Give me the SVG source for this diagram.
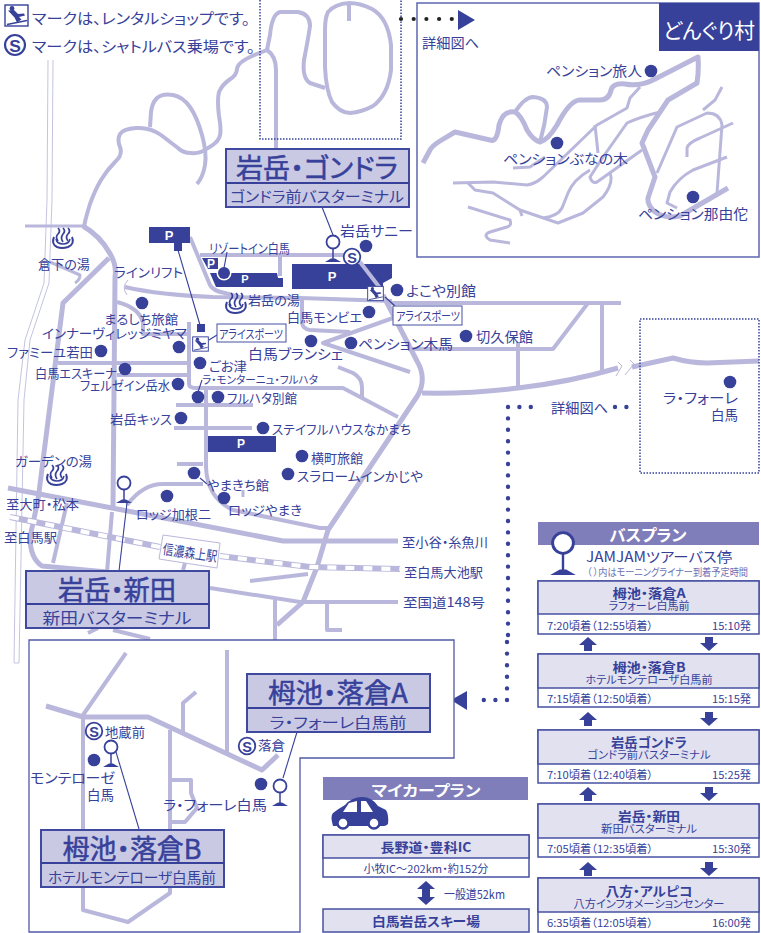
<svg xmlns="http://www.w3.org/2000/svg" width="761" height="933" viewBox="0 0 761 933">
<style>
text{font-family:"Noto Sans CJK JP","Noto Sans",sans-serif;fill:#37419a;dominant-baseline:central;font-size:13px;font-feature-settings:"palt"}
.m{text-anchor:middle}.b{font-weight:700}.w{fill:#fff}
.ttl{font-size:27px;stroke:#37419a;stroke-width:.5}
.r,.r3,.r5{fill:none;stroke:#b9b8dc;stroke-width:4;stroke-linejoin:round}
.r3{stroke-width:3}.r5{stroke-width:5}
.d{fill:#37419a}
.l{fill:none;stroke:#37419a;stroke-width:1.1}
.p{fill:#c9c9e4;stroke:#3f499f;stroke-width:2}
.q{fill:#e1e1f0;stroke:#4750a3;stroke-width:1.5}
.v{fill:#fff;stroke:#4750a3;stroke-width:1.5}
.h{fill:#7f7dba}
.dots{fill:none;stroke:#37419a;stroke-width:4.4;stroke-linecap:round}
</style>
<defs>
<symbol id="ski" viewBox="0 0 25 23"><rect x="1" y="1" width="23" height="21" fill="#fff" stroke="#37419a" stroke-width="1.400"/><circle class="d" cx="8" cy="4.500" r="2.400"/><path class="d" d="M4 6.500 10 6 14 10 20 9.500 21 11.500 15 13 17.500 15.500 13 18.500 10.500 13.500Z"/><path d="M3 20.500 23 16.500" stroke="#37419a" stroke-width="1.300"/></symbol>
<g id="s"><circle r="8.300" fill="#fff" stroke="#37419a" stroke-width="1.800"/><text class="m b" y="0.500" style="font-family:'Liberation Sans',sans-serif;font-size:14.500px">S</text></g>
<g id="stop"><circle cy="-20" r="6.500" fill="#fff" stroke="#37419a" stroke-width="1.800"/><path d="M0-13.500V-3" stroke="#37419a" stroke-width="1.500"/><path class="d" d="M-8 0H8L2-3.500H-2Z"/></g>
<g id="onsen" fill="none" stroke="#37419a" stroke-width="1.700"><path d="M-5-2Q-8-6-5-9-2-12-5-15M0-1Q-3-5 0-9 3-12 0-15M5-2Q2-6 5-9 8-12 5-15"/><path stroke-width="2" d="M-9-6Q-12 1-6 4-1 6 5 4 12 1 9-6"/><path stroke-width="1.500" d="M-7-4Q-6 1 0 1 6 1 7-4"/></g>
<path id="up" class="d" d="M0 0 9 8H4V14H-4V8H-9Z"/>
<path id="dn" class="d" d="M-4 0H4V6H9L0 14-9 6H-4Z"/>
</defs>
<rect width="761" height="933" fill="#fff"/>
<g id="connectors">
<path fill="none" stroke="#c4c4e0" d="M48 60 47 200 44 283 25 340 18 400 14 663H19L24 400 30 340 49 283 52 200 53 60"/>
<path class="r" d="M84 227 85 222Q86 217 90 204 95 190 101 180 107 170 115 162 123 155 120 147 117 140 120 134 123 129 136 128 150 127 161 135L178 148Q183 153 191 153 200 154 208 148 217 143 219 138 222 133 219 116 217 100 219 92 222 85 229 80 237 75 237 69 237 63 252 56L267 50"/>
<path class="r" d="M150 127 151 112Q152 103 157 98 163 93 173 95 183 97 190 107 197 117 202 135 207 153 205 165 203 177 197 184"/>
<path class="r" d="M267 50 270 35Q272 14 280 12H298Q310 14 310 26 308 40 304 60 302 78 310 83L325 88M267 50Q276 56 276 70V148"/>
<path class="r" d="M349 3Q335 4 328 12 325 18 325 30V67Q326 90 332 102 340 113 350 113 362 112 373 106 388 95 391 70V45Q388 18 372 9 360 3 349 3M349 3V21"/>
<path class="r3" d="M25 226H83"/>
<path class="r5" d="M83 226Q100 236 109 252 117 264 115 277L113 507"/>
<path class="r5" d="M109 258 63 303 38 500 30 537Q30 558 42 566L107 572"/>
<path class="r3" d="M50 262 80 275Q80 280 75 283"/>
<path class="r" d="M125 287Q160 295 213 297L300 298 392 301"/>
<path fill="none" stroke="#b9b8dc" d="M128 280Q121 287 127 295"/>
<path class="r" d="M190 237 210 285Q213 291 225 293L240 297"/>
<path class="r" d="M117 302Q140 308 143 323V334H190"/>
<path class="r" d="M58 363H190M117 375H190"/>
<path class="r" d="M189 322V384Q189 388 197 388H343L398 417"/>
<path class="r" d="M338 367 353 373Q362 378 362 387V398"/>
<path class="r" d="M206 388V467Q207 498 233 510L320 528 328 528"/>
<path class="r" d="M176 405H253M174 428H252M177 464H203"/>
<path class="r5" d="M8 488 112 508 283 541H398"/>
<path class="r" d="M127 505Q143 484 163 484H203"/>
<path class="r3" d="M243 490V497"/>
<path class="r" d="M67 503 53 563M112 512 107 572M185 563 183 570"/>
<path class="r" d="M210 588 300 602H398M250 581 308 574M275 600V640M327 603V630H342M88 633 98 628M113 630 150 639"/>
<path class="r" d="M200 255H347M280 255V276"/>
<path class="r" d="M302 298V323Q303 329 310 330L350 332"/>
<path class="r" d="M393 318 323 343 410 372"/>
<path class="r" d="M390 303H621M588 303 553 349H410M602 303V372M518 342V388"/>
<path class="r5" d="M383 295 417 361Q427 378 418 395L328 530 317 567 303 602 277 625"/>
<path class="r5" d="M422 393Q470 394 518 388 570 382 618 368"/>
<path class="r5" d="M632 367 673 358Q690 363 707 363L759 361"/>
<path fill="none" stroke="#b9b8dc" d="M618 362 622 366 616 376M630 360 634 364 625 375"/>
<path fill="none" stroke="#b9b8dc" stroke-width="6" d="M10 517 160 547M220 556 310 567 400 569"/>
<path fill="none" stroke="#fff" stroke-width="4.200" stroke-dasharray="9 9" d="M10 517 160 547M220 556 310 567 400 569"/>
</g>
<g id="detail-top" fill="none" stroke="#37419a" stroke-width="1.500" stroke-dasharray="1.500 1.500"><path d="M260 0V139H401V0"/></g>
<g id="detail-right" fill="none" stroke="#37419a" stroke-width="1.500" stroke-dasharray="1.500 1.500"><rect x="640" y="319" width="119" height="154"/></g>
<path class="dots" d="M508 407H541M615 407H637M508 407V640" stroke-dasharray="0 11.400"/>
<path class="dots" d="M507 642V700H473" stroke-dasharray="0 11.600"/>
<path class="d" d="M451 700 467 691V710Z"/>
<g id="legend">
<use href="#ski" x="4" y="4" width="25" height="23"/>
<text x="32" y="17" textLength="218" lengthAdjust="spacingAndGlyphs" style="font-size:15px">マークは、レンタルショップです。</text>
<use href="#s" transform="translate(15 45) scale(1.200)"/>
<text x="32" y="45" textLength="223" lengthAdjust="spacingAndGlyphs" style="font-size:15px">マークは、シャトルバス乗場です。</text>
</g>
<g id="donguri">
<rect x="417" y="3" width="342" height="254" fill="#fff" stroke="#5e65b0" stroke-width="1.500"/>
<path class="r5" d="M423 163 430 150Q432 146 440 141L455 132 490 140Q497 143 499 125 503 110 515 112 521 115 527 130 533 140 540 142 548 140 557 125 570 100 580 100H600Q609 100 611 90 613 83 625 84 640 87 655 79L698 57Q699 70 697 83L668 100 648 130 642 143 655 177 648 198Q647 205 655 212 665 219 680 216L728 188"/>
<path class="r" d="M515 112Q525 97 533 97 547 98 547 107 545 125 540 142"/>
<path class="r3" d="M453 183 493 182 527 185Q535 184 543 177L597 125 627 108 630 98 640 87"/>
<path class="r3" d="M513 168 530 167 545 157"/>
<path class="r3" d="M595 125 598 153"/>
<path class="r3" d="M660 112Q640 117 627 123L603 157 590 177Q592 184 597 182L642 150"/>
<path class="r3" d="M610 173Q614 183 603 197L583 213 558 223 520 210 493 193 475 190 468 183"/>
<path class="r3" d="M543 218Q558 216 562 208L568 193Q573 180 590 170"/>
<path class="r3" d="M468 207 510 220Q512 226 507 227L490 232Q482 235 490 240L510 243"/>
<path class="r3" d="M520 210 522 216"/>
<path class="r3" d="M657 173 677 127 707 113Q720 113 722 125L717 193"/>
<path class="r3" d="M703 110 715 100 722 87"/>
<path class="r3" d="M687 157V148Q688 143 700 138L733 123"/>
<path class="r3" d="M727 157 693 170Q678 178 670 192L667 203 677 208"/>
<rect x="659" y="3" width="100" height="48" class="d"/>
<text class="w m" x="709" y="29" textLength="92" lengthAdjust="spacingAndGlyphs" style="font-size:21px">どんぐり村</text>
<circle class="d" cx="651" cy="71" r="6.300"/><text x="546" y="70" textLength="96" lengthAdjust="spacingAndGlyphs" style="font-size:14px">ペンション旅人</text>
<circle class="d" cx="557" cy="143" r="6.300"/><text x="503" y="158" textLength="125" lengthAdjust="spacingAndGlyphs" style="font-size:14px">ペンションぶなの木</text>
<circle class="d" cx="693" cy="197" r="6.300"/><text x="638" y="213" textLength="110" lengthAdjust="spacingAndGlyphs" style="font-size:14px">ペンション那由佗</text>
</g>
<path d="M401 19H452" fill="none" stroke="#222" stroke-width="4.200" stroke-linecap="round" stroke-dasharray="0 12.700"/>
<path class="d" d="M458 10 475 20 458 30Z"/>
<text x="422" y="42" textLength="57" lengthAdjust="spacingAndGlyphs" style="font-size:14px">詳細図へ</text>
<text x="551" y="407" textLength="57" lengthAdjust="spacingAndGlyphs" style="font-size:14px">詳細図へ</text>
<g id="parking">
<path class="d" d="M149 227H190V243H182V251H174V243H149Z"/><text class="w m b" x="169" y="235" style="font-size:13px;font-family:'Liberation Sans',sans-serif">P</text>
<path class="d" d="M202 258H218V269H208Z"/><text class="w m b" x="211" y="264" style="font-size:12px;font-family:'Liberation Sans',sans-serif">P</text>
<path class="d" d="M210 273H277L278 278H283V287H216Z"/><text class="w m b" x="245" y="279" style="font-size:11px;font-family:'Liberation Sans',sans-serif">P</text>
<path class="d" d="M292 264H392V278L383 283V289H292Z"/><text class="w m b" x="332" y="276" style="font-size:13px;font-family:'Liberation Sans',sans-serif">P</text>
<path class="r" d="M360 262 380 288"/>
<path class="d" d="M208 436H276V452H208Z"/><text class="w m b" x="241" y="444" style="font-size:12px;font-family:'Liberation Sans',sans-serif">P</text>
<rect class="d" x="197" y="324" width="8" height="8"/>
<path class="l" d="M178 250 200 325"/>
</g>
<g id="labels">
<g id="station"><path d="M163 535 220 543 217 568 159 559Z" fill="#fff" stroke="#b9b8dc"/><text transform="translate(190 552) rotate(8)" class="m" textLength="55" lengthAdjust="spacingAndGlyphs" style="font-size:14px">信濃森上駅</text></g>
<use href="#onsen" x="63" y="243"/><text x="38" y="263" textLength="52" lengthAdjust="spacingAndGlyphs">倉下の湯</text>
<use href="#onsen" x="236" y="308"/><text x="248" y="299" textLength="52" lengthAdjust="spacingAndGlyphs">岩岳の湯</text>
<use href="#onsen" x="57" y="480"/><text x="15" y="460" textLength="77" lengthAdjust="spacingAndGlyphs">ガーデンの湯</text>
<text x="114" y="271" textLength="69" lengthAdjust="spacingAndGlyphs">ラインリフト</text>
<text x="209" y="247" textLength="81" lengthAdjust="spacingAndGlyphs">リゾートイン白馬</text>
<circle cx="224" cy="273" r="7.500" fill="#fff"/><circle class="d" cx="224" cy="273" r="6"/><path class="l" d="M227 252 224 268"/>
<text x="340" y="230" textLength="73" lengthAdjust="spacingAndGlyphs" style="font-size:14px">岩岳サニー</text><circle class="d" cx="366" cy="246" r="6.300"/>
<circle class="d" cx="397" cy="290" r="6.300"/><text x="406" y="290" textLength="70" lengthAdjust="spacingAndGlyphs" style="font-size:14px">よこや別館</text>
<circle class="d" cx="369" cy="312" r="6.300"/><text x="287" y="316" textLength="75" lengthAdjust="spacingAndGlyphs">白馬モンビエ</text>
<circle class="d" cx="351" cy="343" r="6.300"/><text x="358" y="343" textLength="95" lengthAdjust="spacingAndGlyphs" style="font-size:14px">ペンション木馬</text>
<circle class="d" cx="466" cy="336" r="6.300"/><text x="476" y="336" textLength="57" lengthAdjust="spacingAndGlyphs" style="font-size:14px">切久保館</text>
<circle class="d" cx="311" cy="341" r="6.300"/><text x="248" y="353" textLength="95" lengthAdjust="spacingAndGlyphs" style="font-size:14px">白馬ブランシェ</text>
<circle class="d" cx="142" cy="303" r="6.300"/><text x="104" y="318" textLength="74" lengthAdjust="spacingAndGlyphs">まるしち旅館</text>
<circle class="d" cx="179" cy="347" r="6.300"/><text x="42" y="332" textLength="145" lengthAdjust="spacingAndGlyphs">インナーヴィレッジミヤマ</text>
<circle class="d" cx="101" cy="351" r="6.300"/><text x="7" y="351" textLength="86" lengthAdjust="spacingAndGlyphs">ファミーユ若田</text>
<circle class="d" cx="125" cy="369" r="6.300"/><text x="35" y="372" textLength="82" lengthAdjust="spacingAndGlyphs">白馬エスキーナ</text>
<circle class="d" cx="178" cy="384" r="6.300"/><text x="80" y="384" textLength="90" lengthAdjust="spacingAndGlyphs">フェルゼイン岳水</text>
<circle class="d" cx="181" cy="418" r="6.300"/><text x="110" y="418" textLength="62" lengthAdjust="spacingAndGlyphs">岩岳キッス</text>
<circle class="d" cx="200" cy="363" r="6.300"/><text x="209" y="365" textLength="38" lengthAdjust="spacingAndGlyphs">ごお津</text>
<text x="202" y="379" textLength="116" lengthAdjust="spacingAndGlyphs" style="font-size:11px">ラ・モンターニュ・フルハタ</text>
<path class="l" d="M202 380 198 392"/><circle class="d" cx="198" cy="397" r="6.300"/>
<circle class="d" cx="218" cy="397" r="6.300"/><text x="227" y="397" textLength="70" lengthAdjust="spacingAndGlyphs">フルハタ別館</text>
<circle class="d" cx="263" cy="428" r="6.300"/><text x="272" y="428" textLength="139" lengthAdjust="spacingAndGlyphs">ステイフルハウスなかまち</text>
<circle class="d" cx="302" cy="456" r="6.300"/><text x="311" y="457" textLength="52" lengthAdjust="spacingAndGlyphs">横町旅館</text>
<circle class="d" cx="288" cy="474" r="6.300"/><text x="297" y="475" textLength="126" lengthAdjust="spacingAndGlyphs">スラロームインかじや</text>
<circle class="d" cx="194" cy="473" r="6.300"/><path class="l" d="M200 478 207 484"/><text x="207" y="484" textLength="62" lengthAdjust="spacingAndGlyphs">やまきち館</text>
<circle class="d" cx="224" cy="498" r="6.300"/><text x="228" y="509" textLength="74" lengthAdjust="spacingAndGlyphs">ロッジやまき</text>
<circle class="d" cx="167" cy="496" r="6.300"/><text x="136" y="513" textLength="75" lengthAdjust="spacingAndGlyphs">ロッジ加根二</text>
<text x="6" y="503" textLength="73" lengthAdjust="spacingAndGlyphs">至大町・松本</text>
<text x="4" y="536" textLength="53" lengthAdjust="spacingAndGlyphs">至白馬駅</text>
<text x="402" y="541" textLength="86" lengthAdjust="spacingAndGlyphs">至小谷・糸魚川</text>
<text x="404" y="571" textLength="79" lengthAdjust="spacingAndGlyphs">至白馬大池駅</text>
<text x="403" y="601" textLength="82" lengthAdjust="spacingAndGlyphs">至国道148号</text>
<circle class="d" cx="730" cy="382" r="6.300"/>
<text x="663" y="397" textLength="75" lengthAdjust="spacingAndGlyphs" style="font-size:14px">ラ・フォーレ</text>
<text x="711" y="414" textLength="27" lengthAdjust="spacingAndGlyphs" style="font-size:14px">白馬</text>
</g>
<g id="rental-right"><path class="l" d="M385 297 395 306"/><use href="#ski" x="367" y="284" width="17" height="19"/><rect x="393" y="306" width="69" height="19" class="v" style="stroke-width:1"/><text class="m" x="428" y="315" textLength="64" lengthAdjust="spacingAndGlyphs" style="font-size:12px">アライスポーツ</text></g>
<g id="rental-left"><path class="l" d="M209 340 217 335"/><use href="#ski" x="192" y="334" width="17" height="20"/><rect x="217" y="324" width="69" height="18" class="v" style="stroke-width:1"/><text class="m" x="251" y="333" textLength="64" lengthAdjust="spacingAndGlyphs" style="font-size:12px">アライスポーツ</text></g>
<g id="inset-map">
<path d="M29 640H454V758H300V932H29Z" fill="#fff" stroke="#5059a8" stroke-width="1.300"/>
<path class="r" d="M126 653 83 715M227 650V752M196 692 183 703V732M83 718V910L128 922 170 893V730M170 780H191V793L197 808 185 822H170"/>
<path class="r5" d="M46 706 83 717H148L262 770 278 755"/>
</g>
<g id="stop-ume-a">
<path class="l" d="M283 778 297 732"/><use href="#stop" x="280" y="806"/><circle class="d" cx="261" cy="784" r="6.300"/>
<rect class="p" x="247" y="674" width="183" height="58"/><path class="l" style="stroke-width:2" d="M247 708H430"/>
<text class="m ttl" x="338" y="691" textLength="140" lengthAdjust="spacingAndGlyphs">栂池・落倉A</text>
<text class="m" x="338" y="721" textLength="137" lengthAdjust="spacingAndGlyphs" style="font-size:15px">ラ・フォーレ白馬前</text>
<text x="163" y="804" textLength="104" lengthAdjust="spacingAndGlyphs" style="font-size:14px">ラ・フォーレ白馬</text>
<use href="#s" x="247" y="746"/><text x="258" y="744" textLength="27" lengthAdjust="spacingAndGlyphs">落倉</text>
</g>
<g id="stop-ume-b">
<path class="l" d="M116 752 139 829"/><use href="#stop" x="111" y="767"/><circle class="d" cx="94" cy="760" r="6.300"/>
<rect class="p" x="41" y="830" width="183" height="57"/><path class="l" style="stroke-width:2" d="M41 863H224"/>
<text class="m ttl" x="132" y="847" textLength="139" lengthAdjust="spacingAndGlyphs">栂池・落倉B</text>
<text class="m" x="132" y="876" textLength="168" lengthAdjust="spacingAndGlyphs" style="font-size:15px">ホテルモンテローザ白馬前</text>
<use href="#s" x="94" y="731"/><text x="105" y="731" textLength="40" lengthAdjust="spacingAndGlyphs">地蔵前</text>
<text x="30" y="777" textLength="85" lengthAdjust="spacingAndGlyphs" style="font-size:14px">モンテローゼ</text>
<text x="87" y="794" textLength="27" lengthAdjust="spacingAndGlyphs" style="font-size:14px">白馬</text>
</g>
<g id="stop-gondola">
<path class="l" d="M322 207 333 235"/><use href="#stop" x="333" y="262"/><use href="#s" x="352" y="257"/>
<rect class="p" x="226" y="149" width="183" height="58"/><path class="l" style="stroke-width:2" d="M226 183H409"/>
<text class="m ttl" x="317" y="166" textLength="162" lengthAdjust="spacingAndGlyphs">岩岳・ゴンドラ</text>
<text class="m" x="317" y="195" textLength="174" lengthAdjust="spacingAndGlyphs" style="font-size:15px">ゴンドラ前バスターミナル</text>
</g>
<g id="stop-shinden">
<use href="#stop" x="124" y="503"/><path class="l" d="M127 503 119 571"/>
<rect class="p" x="26" y="571" width="183" height="57"/><path class="l" style="stroke-width:2" d="M26 604H209"/>
<text class="m ttl" x="117" y="588" textLength="118" lengthAdjust="spacingAndGlyphs">岩岳・新田</text>
<text class="m" x="117" y="617" textLength="149" lengthAdjust="spacingAndGlyphs" style="font-size:16px">新田バスターミナル</text>
</g>
<g id="mycar-plan">
<rect class="h" x="323" y="777" width="205" height="23"/>
<text class="w m b" x="426" y="789" textLength="109" lengthAdjust="spacingAndGlyphs" style="font-size:15px">マイカープラン</text>
<path class="d" d="M333 826Q330 816 333 813 338 809 345 805 352 797 362 797 372 797 378 806L386 810Q389 815 388 824 386 826 384 826Z"/>
<path d="M343 812 349 803 357 801V812ZM361 801H366L373 812H361Z" fill="#fff"/>
<circle cx="343" cy="823" r="5.500" fill="#fff" stroke="#37419a" stroke-width="2.500"/><circle cx="374" cy="823" r="5.500" fill="#fff" stroke="#37419a" stroke-width="2.500"/>
<rect class="v" x="323" y="835" width="206" height="42"/><rect class="q" x="323" y="835" width="206" height="23"/>
<text class="m b" x="426" y="846" textLength="91" lengthAdjust="spacingAndGlyphs">長野道・豊科IC</text>
<text class="m" x="426" y="868" textLength="125" lengthAdjust="spacingAndGlyphs" style="font-size:11px">小牧IC〜202km・約152分</text>
<path class="d" d="M426 881 435 889H430V897H435L426 905 417 897H422V889H417Z"/>
<text x="444" y="893" textLength="61" lengthAdjust="spacingAndGlyphs" style="font-size:12px">一般道52km</text>
<rect class="q" x="323" y="909" width="206" height="23"/>
<text class="m b" x="426" y="920" textLength="108" lengthAdjust="spacingAndGlyphs">白馬岩岳スキー場</text>
</g>
<g id="bus-plan">
<rect class="h" x="538" y="522" width="221" height="23"/>
<text class="w m b" x="648" y="534" textLength="77" lengthAdjust="spacingAndGlyphs" style="font-size:16px">バスプラン</text>
<g transform="translate(563 575) scale(1.600)"><use href="#stop" y="0"/></g>
<text x="586" y="556" textLength="146" lengthAdjust="spacingAndGlyphs" style="font-size:14px">JAMJAMツアーバス停</text>
<text x="587" y="571" textLength="161" lengthAdjust="spacingAndGlyphs" style="font-size:10px;fill:#6a70b5">（ ）内はモーニングライナー到着予定時間</text>
</g>
<g id="bus-a"><rect class="v" x="538" y="581" width="221" height="53"/><rect class="q" x="538" y="581" width="221" height="33"/>
<text class="m b" x="649" y="592" textLength="73" lengthAdjust="spacingAndGlyphs" style="font-size:13px">栂池・落倉A</text><text class="m" x="649" y="605" textLength="81" lengthAdjust="spacingAndGlyphs" style="font-size:11px">ラフォーレ白馬前</text>
<text x="547" y="625" textLength="106" lengthAdjust="spacingAndGlyphs" style="font-size:11px">7:20頃着（12:55頃着）</text><text x="712" y="625" textLength="39" lengthAdjust="spacingAndGlyphs" style="font-size:11px">15:10発</text></g>
<use href="#up" x="588" y="637"/><use href="#dn" x="709" y="637"/>
<g id="bus-b"><rect class="v" x="538" y="654" width="221" height="53"/><rect class="q" x="538" y="654" width="221" height="34"/>
<text class="m b" x="649" y="666" textLength="73" lengthAdjust="spacingAndGlyphs" style="font-size:13px">栂池・落倉B</text><text class="m" x="649" y="679" textLength="127" lengthAdjust="spacingAndGlyphs" style="font-size:11px">ホテルモンテローザ白馬前</text>
<text x="547" y="698" textLength="106" lengthAdjust="spacingAndGlyphs" style="font-size:11px">7:15頃着（12:50頃着）</text><text x="712" y="698" textLength="39" lengthAdjust="spacingAndGlyphs" style="font-size:11px">15:15発</text></g>
<use href="#up" x="588" y="712"/><use href="#dn" x="709" y="712"/>
<g id="bus-c"><rect class="v" x="538" y="730" width="221" height="53"/><rect class="q" x="538" y="730" width="221" height="34"/>
<text class="m b" x="649" y="741" textLength="76" lengthAdjust="spacingAndGlyphs" style="font-size:13px">岩岳ゴンドラ</text><text class="m" x="649" y="754" textLength="123" lengthAdjust="spacingAndGlyphs" style="font-size:11px">ゴンドラ前バスターミナル</text>
<text x="547" y="774" textLength="106" lengthAdjust="spacingAndGlyphs" style="font-size:11px">7:10頃着（12:40頃着）</text><text x="712" y="774" textLength="39" lengthAdjust="spacingAndGlyphs" style="font-size:11px">15:25発</text></g>
<use href="#up" x="588" y="787"/><use href="#dn" x="709" y="787"/>
<g id="bus-d"><rect class="v" x="538" y="804" width="221" height="53"/><rect class="q" x="538" y="804" width="221" height="34"/>
<text class="m b" x="649" y="815" textLength="62" lengthAdjust="spacingAndGlyphs" style="font-size:13px">岩岳・新田</text><text class="m" x="649" y="828" textLength="96" lengthAdjust="spacingAndGlyphs" style="font-size:11px">新田バスターミナル</text>
<text x="547" y="848" textLength="106" lengthAdjust="spacingAndGlyphs" style="font-size:11px">7:05頃着（12:35頃着）</text><text x="712" y="848" textLength="39" lengthAdjust="spacingAndGlyphs" style="font-size:11px">15:30発</text></g>
<use href="#up" x="588" y="862"/><use href="#dn" x="709" y="862"/>
<g id="bus-e"><rect class="v" x="538" y="878" width="221" height="54"/><rect class="q" x="538" y="878" width="221" height="34"/>
<text class="m b" x="649" y="890" textLength="87" lengthAdjust="spacingAndGlyphs" style="font-size:13px">八方・アルピコ</text><text class="m" x="649" y="903" textLength="151" lengthAdjust="spacingAndGlyphs" style="font-size:11px">八方インフォメーションセンター</text>
<text x="547" y="922" textLength="106" lengthAdjust="spacingAndGlyphs" style="font-size:11px">6:35頃着（12:05頃着）</text><text x="712" y="922" textLength="39" lengthAdjust="spacingAndGlyphs" style="font-size:11px">16:00発</text></g>
</svg>
